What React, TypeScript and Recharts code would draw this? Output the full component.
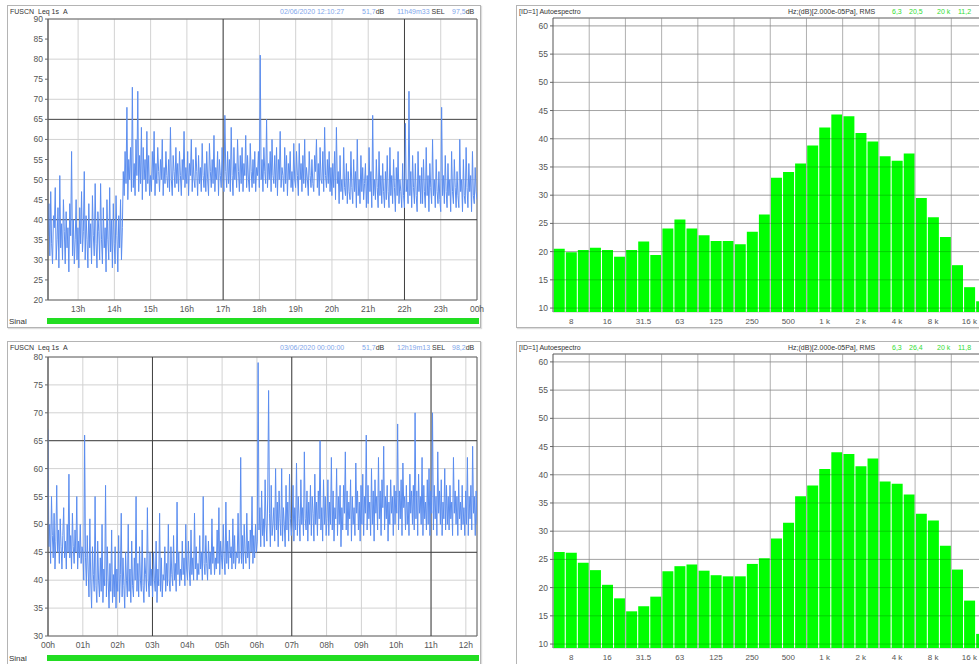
import React from 'react';
import {
  LineChart, Line, XAxis, YAxis, CartesianGrid, ReferenceLine, ReferenceArea,
  BarChart, Bar,
} from 'recharts';

const FONT = '"Liberation Sans", Arial, sans-serif';

// ---------- Time history 1 (afternoon / evening), Leq 1s A ----------
const dayStart = 12.17;
const dayEnd = 24;
const dayLevels = [
  // 12:10 - 14:15
  36, 44, 31, 47, 34, 29, 41, 38, 48, 30, 35, 43, 28, 51, 33, 39, 30, 45, 37, 29,
  42, 33, 38, 27, 44, 36, 57, 31, 40, 29, 35, 45, 30, 38, 28, 43, 34, 47, 32, 37,
  52, 30, 41, 35, 28, 44, 33, 39, 29, 46, 36, 31, 49, 34, 28, 42, 37, 30, 49, 35,
  29, 43, 33, 38, 27, 45, 35, 30, 48, 32, 40, 28, 44, 34, 29, 46, 36, 27, 41, 33, 45, 30, 38,
  // 14:15 - 15:00
  52, 46, 57, 49, 68, 45, 55, 50, 58, 47, 73, 48, 54, 46, 60, 51, 72, 47, 56, 49, 63, 45, 58, 50, 55, 47, 62, 49, 56, 46,
  // 15:00 - 20:00
  51, 47, 57, 50, 62, 46, 54, 49, 58, 52, 47, 55, 50, 60, 46, 53, 49, 57, 51, 48,
  55, 47, 63, 50, 46, 56, 52, 48, 58, 49, 54, 47, 57, 51, 46, 55, 50, 62, 48, 53,
  49, 57, 46, 54, 51, 60, 47, 55, 50, 48, 58, 52, 46, 56, 49, 53, 47, 59, 51, 48,
  54, 47, 57, 50, 46, 59, 52, 48, 55, 49, 61, 47, 53, 50, 57, 46, 55, 51, 48, 58,
  50, 47, 66, 52, 48, 57, 49, 55, 47, 63, 51, 46, 58, 50, 54, 48, 60, 52, 47, 56,
  49, 58, 47, 54, 51, 61, 48, 56, 50, 47, 59, 52, 48, 55, 49, 57, 47, 53, 51, 57,
  48, 81, 50, 55, 47, 58, 52, 49, 65, 48, 54, 50, 57, 47, 60, 51, 49, 56, 48, 58,
  46, 55, 50, 62, 48, 53, 51, 47, 58, 49, 56, 46, 54, 50, 57, 48, 52, 47, 59, 50,
  48, 57, 51, 46, 59, 50, 54, 47, 56, 49, 60, 48, 53, 50, 46, 57, 51, 48, 55, 49,
  47, 56, 52, 60, 48, 54, 46, 58, 50, 49, 57, 47, 63, 51, 48, 55, 49, 57, 47, 53,
  // 20:00 - 24:00
  46, 54, 48, 57, 45, 63, 49, 52, 44, 56, 47, 50, 45, 58, 48, 46, 54, 44, 52, 47,
  45, 57, 48, 44, 55, 47, 52, 43, 60, 46, 50, 44, 56, 47, 53, 45, 49, 54, 43, 51,
  44, 58, 47, 52, 43, 66, 46, 50, 45, 55, 48, 43, 57, 46, 51, 44, 54, 47, 43, 52,
  45, 56, 47, 43, 58, 46, 51, 44, 55, 48, 42, 53, 46, 57, 44, 50, 47, 43, 54, 46,
  43, 64, 47, 50, 44, 72, 46, 52, 43, 56, 48, 44, 54, 46, 42, 57, 47, 51, 44, 53,
  44, 55, 47, 43, 58, 46, 51, 42, 54, 48, 44, 60, 46, 50, 43, 55, 47, 44, 52, 45,
  42, 68, 46, 51, 44, 56, 47, 43, 54, 46, 50, 42, 57, 47, 44, 55, 48, 43, 52, 46,
  43, 60, 47, 50, 42, 55, 46, 44, 58, 48, 43, 54, 47, 51, 42, 57, 46, 44, 53, 47, 45,
];
const dayHourTicks = [13, 14, 15, 16, 17, 18, 19, 20, 21, 22, 23, 24];
const dayHourLabels = ['13h', '14h', '15h', '16h', '17h', '18h', '19h', '20h', '21h', '22h', '23h', '00h'];
const dayLevelTicks = [20, 25, 30, 35, 40, 45, 50, 55, 60, 65, 70, 75, 80, 85, 90];
const dayMajorHours = [17, 22];
const dayMajorLevels = [40, 65];

// ---------- Time history 2 (night / morning), Leq 1s A ----------
const nightStart = 0;
const nightEnd = 12.32;
const nightLevels = [
  67, 46, 50, 43, 55, 48, 44, 52, 42, 47, 57, 45, 49, 43, 51, 46, 42, 48, 53, 44,
  47, 42, 50, 45, 59, 44, 48, 42, 52, 46, 43, 49, 45, 55, 42, 47, 44, 50, 43, 46,
  45, 40, 66, 44, 39, 48, 42, 37, 51, 40, 35, 46, 41, 38, 55, 39, 36, 47, 40, 37,
  44, 38, 50, 36, 42, 39, 57, 37, 46, 40, 35, 43, 38, 49, 36, 41, 37, 46, 35, 42,
  38, 48, 36, 41, 52, 37, 44, 39, 35, 45, 40, 37, 50, 38, 42, 36, 47, 39, 37, 44,
  40, 55, 38, 43, 37, 46, 40, 38, 49, 39, 36, 44, 41, 38, 53, 40, 37, 45, 39, 42,
  37, 45, 40, 38, 47, 36, 42, 39, 52, 38, 44, 37, 41, 40, 46, 38, 43, 39, 50, 40,
  38, 46, 41, 39, 48, 40, 43, 38, 54, 41, 45, 39, 42, 40, 47, 41, 44, 39, 50, 42,
  40, 47, 42, 39, 49, 41, 44, 40, 52, 42, 46, 40, 43, 41, 48, 42, 45, 40, 55, 43,
  41, 48, 43, 40, 47, 42, 45, 41, 51, 43, 46, 41, 44, 42, 49, 43, 53, 41, 47, 44,
  42, 50, 44, 41, 54, 43, 47, 42, 49, 44, 46, 42, 51, 43, 48, 42, 45, 44, 52, 43,
  44, 62, 43, 48, 42, 50, 45, 43, 52, 44, 47, 42, 49, 45, 55, 43, 48, 44, 50, 45,
  47, 79, 49, 53, 46, 56, 48, 51, 46, 58, 50, 47, 55, 74, 52, 46, 57, 48, 50, 53,
  47, 60, 49, 54, 46, 56, 51, 48, 60, 47, 53, 50, 46, 57, 49, 54, 47, 59, 51, 48,
  50, 57, 47, 53, 49, 61, 48, 55, 51, 47, 58, 50, 53, 48, 63, 51, 49, 56, 47, 54,
  50, 57, 48, 55, 52, 47, 59, 50, 54, 48, 56, 51, 65, 49, 53, 47, 58, 50, 55, 48,
  51, 58, 48, 54, 50, 62, 49, 56, 47, 53, 51, 60, 48, 55, 50, 57, 46, 53, 49, 57,
  52, 63, 49, 56, 48, 54, 51, 58, 47, 55, 50, 53, 48, 61, 52, 56, 49, 54, 47, 57,
  50, 59, 48, 55, 52, 66, 49, 57, 51, 54, 48, 60, 50, 56, 47, 58, 52, 55, 49, 62,
  51, 56, 48, 58, 53, 64, 49, 55, 51, 57, 47, 54, 50, 58, 52, 55, 48, 57, 50, 56,
  52, 68, 49, 56, 51, 58, 48, 61, 53, 55, 49, 57, 50, 54, 48, 59, 52, 56, 50, 57,
  49, 70, 51, 56, 48, 59, 52, 55, 50, 62, 48, 57, 51, 54, 49, 58, 50, 60, 48, 56,
  52, 70, 49, 57, 51, 55, 48, 63, 52, 56, 50, 58, 48, 54, 51, 60, 49, 57, 50, 55,
  49, 57, 51, 54, 48, 62, 52, 56, 50, 55, 48, 58, 51, 54, 49, 57, 50, 53, 48, 56,
  50, 62, 48, 55, 51, 57, 49, 64, 52, 55, 48, 56, 50,
];
const nightHourTicks = [0, 1, 2, 3, 4, 5, 6, 7, 8, 9, 10, 11, 12];
const nightHourLabels = ['00h', '01h', '02h', '03h', '04h', '05h', '06h', '07h', '08h', '09h', '10h', '11h', '12h'];
const nightLevelTicks = [30, 35, 40, 45, 50, 55, 60, 65, 70, 75, 80];
const nightMajorHours = [3, 7, 11];
const nightMajorLevels = [45, 65];

// ---------- Third-octave spectra ----------
const bandCenters = [
  '6.3', '8', '10', '12.5', '16', '20', '25', '31.5', '40', '50', '63', '80', '100', '125', '160', '200', '250', '315',
  '400', '500', '630', '800', '1k', '1.25k', '1.6k', '2k', '2.5k', '3.15k', '4k', '5k', '6.3k', '8k', '10k', '12.5k', '16k', '20k',
];
const bandTickLabels: Record<string, string> = {
  '8': '8', '16': '16', '31.5': '31.5', '63': '63', '125': '125', '250': '250', '500': '500',
  '1k': '1 k', '2k': '2 k', '4k': '4 k', '8k': '8 k', '16k': '16 k',
};
const octaveEdges = ['12.5', '25', '50', '100', '200', '400', '800', '1.6k', '3.15k', '6.3k', '12.5k'];
const spectrumDay = [
  20.5, 19.9, 20.3, 20.7, 20.3, 19.1, 20.3, 21.8, 19.4, 24.1, 25.7, 24.1, 22.9, 21.9, 21.9, 21.3, 23.5, 26.6,
  33.1, 34.1, 35.6, 38.8, 42.0, 44.3, 44.0, 41.0, 39.5, 36.9, 36.1, 37.4, 29.5, 26.1, 22.6, 17.6, 13.7, 11.2,
];
const spectrumNight = [
  26.3, 26.2, 24.4, 23.1, 20.5, 18.1, 15.8, 16.7, 18.4, 22.9, 23.8, 24.1, 23.0, 22.2, 22.0, 22.0, 24.2, 25.2,
  28.7, 31.5, 36.2, 38.1, 41.0, 44.0, 43.7, 41.5, 42.9, 38.8, 38.4, 36.5, 33.1, 31.9, 27.4, 23.2, 17.7, 11.8,
];
const spectrumTicks = [10, 15, 20, 25, 30, 35, 40, 45, 50, 55, 60];
const spectrumDomain: [number, number] = [9.3, 61.4];

const toSeries = (levels: number[], start: number, end: number) =>
  levels.map((v, i) => ({ t: start + (i * (end - start)) / (levels.length - 1), v }));

const toBands = (levels: number[]) => bandCenters.map((f, i) => ({ f, v: levels[i] }));

const tickStyle = { fontSize: 8.5, fill: '#555', fontFamily: FONT };

function T({ x, y, children, color = '#333', size = 7 }: any) {
  return (
    <div style={{ position: 'absolute', left: x, top: y, fontSize: size, color, whiteSpace: 'nowrap', lineHeight: 1 }}>
      {children}
    </div>
  );
}

function Frame({ x, y, w, h }: any) {
  return <div style={{ position: 'absolute', left: x, top: y, width: w, height: h, border: '1px solid #b4b4b4', boxSizing: 'border-box', boxShadow: '1px 1px 1px #ddd' }} />;
}

function TimeChart({ levels, start, end, hourTicks, hourLabels, levelTicks, majorHours, majorLevels, plotLeft, plotTop, plotW, plotH }: any) {
  const yW = 40, mt = 6, mr = 14, xH = 16;
  const data = toSeries(levels, start, end);
  const yDomain: [number, number] = [levelTicks[0], levelTicks[levelTicks.length - 1]];
  return (
    <div style={{ position: 'absolute', left: plotLeft - yW, top: plotTop - mt }}>
      <LineChart width={yW + plotW + mr} height={mt + plotH + xH} data={data} margin={{ top: mt, right: mr, bottom: 0, left: 0 }}>
        <CartesianGrid stroke="#d2d2d2" />
        <XAxis
          dataKey="t" type="number" domain={[start, end]} allowDataOverflow ticks={hourTicks}
          tickFormatter={(v: number) => hourLabels[hourTicks.indexOf(v)]}
          tick={tickStyle} tickLine={false} axisLine={false} height={xH} tickSize={4}
        />
        <YAxis
          type="number" domain={yDomain} ticks={levelTicks} allowDataOverflow width={yW}
          tick={tickStyle} tickSize={3} tickLine={{ stroke: '#666' }} axisLine={{ stroke: '#666' }}
        />
        {majorHours.map((h: number) => <ReferenceLine key={'h' + h} x={h} stroke="#404040" />)}
        {majorLevels.map((l: number) => <ReferenceLine key={'l' + l} y={l} stroke="#404040" />)}
        <Line dataKey="v" stroke="#5b8def" strokeWidth={1} dot={false} isAnimationActive={false} />
        <ReferenceArea x1={start} x2={end} y1={yDomain[0]} y2={yDomain[1]} fill="none" stroke="#666" />
      </LineChart>
    </div>
  );
}

function SpectrumChart({ levels, plotLeft, plotTop }: any) {
  const yW = 40, mt = 6, mr = 5, xH = 18, plotW = 434.5, plotH = 294;
  const data = toBands(levels);
  return (
    <div style={{ position: 'absolute', left: plotLeft - yW, top: plotTop - mt }}>
      <BarChart width={yW + plotW + mr} height={mt + plotH + xH} data={data} margin={{ top: mt, right: mr, bottom: 0, left: 0 }} barCategoryGap="6%">
        <CartesianGrid vertical={false} stroke="#c8c8c8" />
        <XAxis
          dataKey="f" interval={0} tickLine={false} axisLine={false} height={xH} tickSize={4}
          tickFormatter={(f: string) => bandTickLabels[f] ?? ''} tick={{ ...tickStyle, fontSize: 8 }}
        />
        <YAxis
          type="number" domain={spectrumDomain} ticks={spectrumTicks} allowDataOverflow width={yW}
          tick={tickStyle} tickSize={3} tickLine={{ stroke: '#666' }} axisLine={{ stroke: '#555' }}
        />
        {octaveEdges.map((f) => <ReferenceLine key={f} x={f} position="start" stroke="#b0b0b0" />)}
        <Bar dataKey="v" fill="#00ff00" isAnimationActive={false} />
        {spectrumTicks.map((l) => <ReferenceLine key={'g' + l} y={l} stroke="rgba(0,0,0,0.18)" />)}
        <ReferenceLine y={spectrumDomain[1]} stroke="#777" />
      </BarChart>
    </div>
  );
}

export default function App() {
  return (
    <div style={{ position: 'absolute', left: 0, top: 0, width: 979, height: 664, overflow: 'hidden', background: '#fff', fontFamily: FONT }}>
      {/* Top-left panel */}
      <Frame x={7} y={5} w={474} h={323} />
      <T x={10} y={8}>FUSCN&nbsp;&nbsp;Leq 1s&nbsp;&nbsp;A</T>
      <T x={280} y={8} color="#7fa6ea">02/06/2020 12:10:27</T>
      <T x={362} y={8} color="#7fa6ea">51,7<span style={{ color: '#333' }}>dB</span></T>
      <T x={397} y={8} color="#7fa6ea">11h49m33 <span style={{ color: '#333' }}>SEL</span></T>
      <T x={452} y={8} color="#7fa6ea">97,5<span style={{ color: '#333' }}>dB</span></T>
      <TimeChart
        levels={dayLevels} start={dayStart} end={dayEnd} hourTicks={dayHourTicks} hourLabels={dayHourLabels}
        levelTicks={dayLevelTicks} majorHours={dayMajorHours} majorLevels={dayMajorLevels}
        plotLeft={48} plotTop={19} plotW={429} plotH={281}
      />
      <T x={9} y={318} size={8}>Sinal</T>
      <div style={{ position: 'absolute', left: 47, top: 318, width: 432, height: 6, background: '#22dd22' }} />

      {/* Top-right panel */}
      <Frame x={516} y={5} w={480} h={323} />
      <T x={519} y={8}>[ID=1] Autoespectro</T>
      <T x={788} y={8}>Hz;(dB)[2.000e-05Pa], RMS</T>
      <T x={892} y={8} color="#33dd33">6,3</T>
      <T x={909} y={8} color="#33dd33">20,5</T>
      <T x={937} y={8} color="#33dd33">20 k</T>
      <T x={958} y={8} color="#33dd33">11,2</T>
      <SpectrumChart levels={spectrumDay} plotLeft={553} plotTop={18} />

      {/* Bottom-left panel */}
      <Frame x={7} y={341} w={474} h={330} />
      <T x={10} y={344}>FUSCN&nbsp;&nbsp;Leq 1s&nbsp;&nbsp;A</T>
      <T x={280} y={344} color="#7fa6ea">03/06/2020 00:00:00</T>
      <T x={362} y={344} color="#7fa6ea">51,7<span style={{ color: '#333' }}>dB</span></T>
      <T x={397} y={344} color="#7fa6ea">12h19m13 <span style={{ color: '#333' }}>SEL</span></T>
      <T x={452} y={344} color="#7fa6ea">98,2<span style={{ color: '#333' }}>dB</span></T>
      <TimeChart
        levels={nightLevels} start={nightStart} end={nightEnd} hourTicks={nightHourTicks} hourLabels={nightHourLabels}
        levelTicks={nightLevelTicks} majorHours={nightMajorHours} majorLevels={nightMajorLevels}
        plotLeft={48} plotTop={357} plotW={429} plotH={279}
      />
      <T x={9} y={655} size={8}>Sinal</T>
      <div style={{ position: 'absolute', left: 47, top: 655, width: 432, height: 6, background: '#22dd22' }} />

      {/* Bottom-right panel */}
      <Frame x={516} y={341} w={480} h={330} />
      <T x={519} y={344}>[ID=1] Autoespectro</T>
      <T x={788} y={344}>Hz;(dB)[2.000e-05Pa], RMS</T>
      <T x={892} y={344} color="#33dd33">6,3</T>
      <T x={909} y={344} color="#33dd33">26,4</T>
      <T x={937} y={344} color="#33dd33">20 k</T>
      <T x={958} y={344} color="#33dd33">11,8</T>
      <SpectrumChart levels={spectrumNight} plotLeft={553} plotTop={354} />
    </div>
  );
}
